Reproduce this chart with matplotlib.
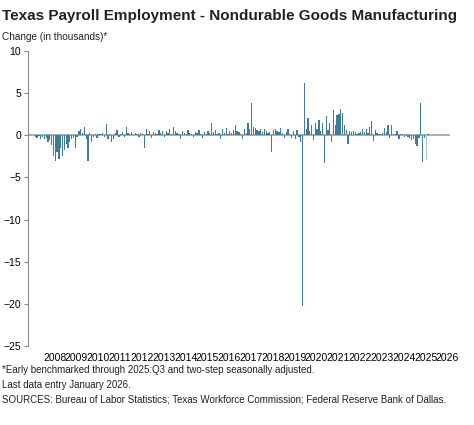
import matplotlib
matplotlib.use("Agg")
import matplotlib.pyplot as plt
import numpy as np

plt.rcParams['font.family'] = ['Liberation Sans Narrow', 'Liberation Sans', 'DejaVu Sans']

years = list(range(2008, 2027))
v2008 = [-0.2,-0.3,-0.1,-0.4,-0.2,-0.5,-0.3,-0.8,-0.6,-1.2,-2.5,-3.0]
v2009 = [-2.0,-2.8,-1.5,-2.5,-1.8,-1.0,-1.5,-0.8,-0.5,-0.3,-1.5,-0.2]
v2010 = [0.5,0.8,0.3,1.0,-0.5,-3.0,0.3,-0.8,-0.2,0.2,-0.3,0.1]
v2011 = [0.2,0.3,-0.2,1.3,-0.4,0.2,-0.8,-0.5,0.3,0.6,-0.2,0.2]
v2012 = [0.4,-0.2,1.0,0.3,0.2,0.4,0.2,0.3,0.2,-0.2,0.3,0.1]
v2013 = [-1.5,0.8,0.2,0.5,-0.3,0.4,0.3,0.2,0.6,0.3,0.5,-0.2]
v2014 = [0.5,0.3,0.8,0.2,1.0,0.5,0.3,0.2,-0.4,0.5,0.3,0.2]
v2015 = [0.6,0.3,0.2,-0.2,0.4,0.3,0.6,0.1,-0.3,0.4,0.2,0.5]
v2016 = [0.3,1.5,0.4,0.6,0.2,0.3,-0.4,0.7,0.3,0.9,0.2,0.5]
v2017 = [0.3,0.6,1.2,0.5,0.4,0.2,-0.5,0.8,0.3,1.4,0.7,3.8]
v2018 = [1.0,0.9,0.6,0.5,0.7,0.4,0.8,0.5,0.3,0.4,-2.0,0.6]
v2019 = [0.7,0.5,0.4,0.9,0.3,-0.3,0.4,0.7,0.2,-0.3,0.5,-0.4]
v2020 = [0.6,-0.2,-0.8,-20.3,6.2,0.8,2.0,0.5,1.2,-0.6,1.5,0.8]
v2021 = [1.8,0.5,1.5,-3.3,2.3,0.6,1.5,-0.8,3.0,1.2,2.4,2.5]
v2022 = [3.1,2.6,1.2,0.6,-1.0,0.5,0.4,0.5,0.4,0.2,0.3,0.4]
v2023 = [0.8,0.4,0.7,0.3,1.0,1.7,-0.7,0.6,0.3,0.2,0.1,0.3]
v2024 = [0.9,0.4,1.2,-0.3,1.2,0.2,0.1,0.5,-0.5,0.1,0.2,-0.2]
v2025 = [0.1,-0.2,-0.3,-0.6,-0.4,-1.0,-1.3,-0.3,3.8,-3.2,-0.3,-2.9]
v2026 = [0.1]

values = np.array(v2008+v2009+v2010+v2011+v2012+v2013+v2014+v2015+v2016+v2017+
                  v2018+v2019+v2020+v2021+v2022+v2023+v2024+v2025+v2026)
x = np.arange(len(values))

fig = plt.figure(figsize=(4.74, 4.25), dpi=100)
ax = fig.add_axes([0.059, 0.186, 0.89, 0.694])
colors = ['#3E7C9C']*len(values)
colors[-2] = '#A9C6D6'
ax.bar(x, values, width=0.7, color=colors, zorder=2)
ax.axhline(0, color='#A0A0A0', lw=1.2, zorder=1)
ax.set_xlim(-4, 228)
ax.set_ylim(-25, 10)
ax.set_yticks(range(-25, 11, 5))
ax.set_xticks([12*i + 10.7 for i in range(len(years))])
ax.set_xticklabels([str(y) for y in years], fontsize=7.5)
ax.tick_params(axis='x', length=0, pad=5)
ax.tick_params(axis='y', labelsize=7.5, length=3, color='#888888', direction='out', pad=2)
for s in ['top', 'right', 'bottom']:
    ax.spines[s].set_visible(False)
ax.spines['left'].set_color('#888888')
ax.spines['left'].set_linewidth(0.8)

fig.text(0.005, 0.978, 'Texas Payroll Employment - Nondurable Goods Manufacturing',
         fontsize=11, fontweight='bold', va='top', color='#222222')
fig.text(0.005, 0.912, 'Change (in thousands)*', fontsize=7.2, va='center', color='#222222')
fig.text(0.005, 0.095, '*Early benchmarked through 2025:Q3 and two-step seasonally adjusted.\n'
         'Last data entry January 2026.\n'
         'SOURCES: Bureau of Labor Statistics; Texas Workforce Commission; Federal Reserve Bank of Dallas.',
         fontsize=7, va='center', linespacing=1.55, color='#222222')
fig.savefig('out.png', dpi=100)
